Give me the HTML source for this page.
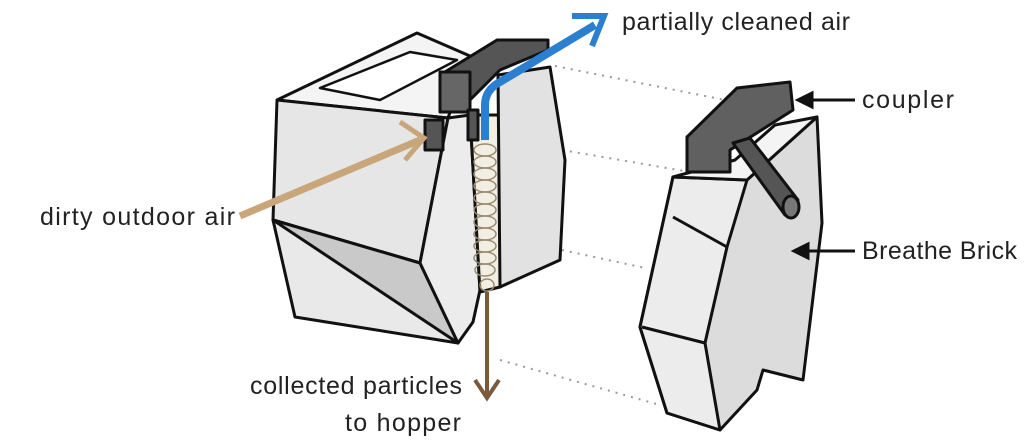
<!DOCTYPE html>
<html><head><meta charset="utf-8"><style>
html,body{margin:0;padding:0;background:#fff;}
svg{display:block}
text{font-family:"Liberation Sans",sans-serif;font-size:25px;fill:#222}
</style></head><body>
<svg width="1024" height="442" viewBox="0 0 1024 442">
<g stroke="#999" stroke-width="2" stroke-dasharray="2,6" fill="none">
<line x1="555" y1="66" x2="725" y2="100"/>
<line x1="562" y1="150" x2="690" y2="172"/>
<line x1="562" y1="250" x2="645" y2="268"/>
<line x1="500" y1="360" x2="660" y2="405"/>
</g>
<g stroke="#111" stroke-width="3" stroke-linejoin="round">
<polygon points="277,100 417,33 470,56 448,118" fill="#f4f4f4"/>
<polygon points="320,88 410,52 457,60 380,100" fill="#fff" stroke-width="2.5"/>
<polygon points="277,100 448,118 420,263 273,220" fill="#e6e6e6"/>
<polygon points="273,220 420,263 458,343 295,317" fill="#e9e9e9"/>
<polygon points="273,220 420,263 458,343" fill="#c9c9c9"/>
<polygon points="448,118 470,115 480,290 473,322 458,343 420,263" fill="#ececec"/>
<polygon points="470,115 500,115 500,287 480,292" fill="#f2eee4"/>
<polygon points="498,75 550,67 565,160 560,260 500,287" fill="#e2e2e2"/>
<polygon points="440,75 497,40 548,40 548,50 500,70 470,100 440,105" fill="#555"/>
<rect x="440" y="72" width="30" height="40" fill="#666"/>
<rect x="425" y="120" width="18" height="30" fill="#555"/>
<rect x="468" y="110" width="10" height="30" fill="#555"/>
</g>
<g stroke="#9a8c70" stroke-width="1.5" fill="none">
<ellipse cx="485" cy="150" rx="11" ry="6"/><ellipse cx="485" cy="162" rx="11" ry="6"/>
<ellipse cx="485" cy="174" rx="11" ry="6"/><ellipse cx="485" cy="186" rx="11" ry="6"/>
<ellipse cx="485" cy="198" rx="11" ry="6"/><ellipse cx="485" cy="210" rx="11" ry="6"/>
<ellipse cx="485" cy="222" rx="11" ry="6"/><ellipse cx="485" cy="234" rx="11" ry="6"/>
<ellipse cx="485" cy="246" rx="11" ry="6"/><ellipse cx="485" cy="258" rx="11" ry="6"/>
<ellipse cx="485" cy="270" rx="10" ry="6"/><ellipse cx="487" cy="285" rx="7" ry="6"/>
</g>
<line x1="240" y1="216" x2="420" y2="140" stroke="#c9a57a" stroke-width="7"/>
<polyline points="400,122 424,138 405,160" fill="none" stroke="#c9a57a" stroke-width="5"/>
<path d="M485,140 L485,105 Q485,90 500,82 L595,25" fill="none" stroke="#2b7fd0" stroke-width="8"/>
<polyline points="572,16 604,16 592,46" fill="none" stroke="#2b7fd0" stroke-width="6"/>
<line x1="487" y1="292" x2="487" y2="395" stroke="#7a5a3a" stroke-width="4"/>
<polyline points="475,380 487,398 499,380" fill="none" stroke="#7a5a3a" stroke-width="4"/>
<g stroke="#111" stroke-width="3" stroke-linejoin="round">
<polygon points="673,177 747,180 817,117 822,223 803,380 763,370 757,390 720,430 667,413 640,327" fill="#dcdcdc"/>
<polygon points="673,177 747,180 727,247 705,343 720,430 667,413 640,327" fill="#ececec"/>
<polyline points="673,217 727,247" fill="none"/>
<polyline points="642,327 705,343" fill="none"/>
<polygon points="673,177 747,180 817,117 775,125 735,160" fill="#f4f4f4"/>
<polygon points="687,137 737,88 790,82 793,110 730,150 730,172 687,172" fill="#606060"/>
<polygon points="733,143 750,138 798,200 785,215" fill="#555"/>
<ellipse cx="791" cy="207" rx="8" ry="11" fill="#777"/>
</g>
<g stroke="#111" stroke-width="3" fill="#111">
<line x1="855" y1="100" x2="805" y2="100"/><polygon points="798,100 812,93 812,107"/>
<line x1="855" y1="251" x2="800" y2="251"/><polygon points="794,251 808,244 808,258"/>
</g>
<text x="622" y="30" textLength="228">partially cleaned air</text>
<text x="862" y="108" textLength="92">coupler</text>
<text x="862" y="259" textLength="155">Breathe Brick</text>
<text x="40" y="225" textLength="195">dirty outdoor air</text>
<text x="250" y="394" textLength="212">collected particles</text>
<text x="345" y="431" textLength="116">to hopper</text>
</svg>
</body></html>
